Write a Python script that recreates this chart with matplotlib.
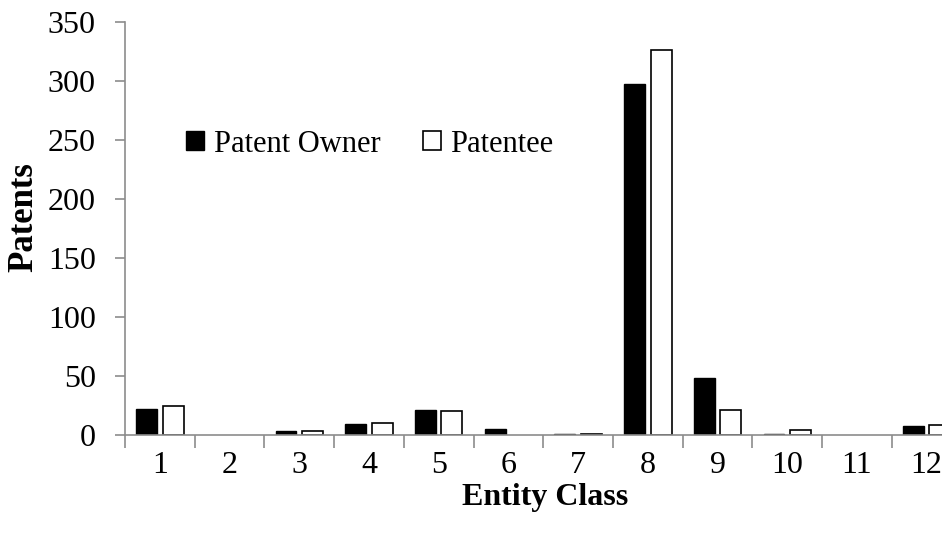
import matplotlib
matplotlib.use("Agg")
import matplotlib.pyplot as plt
import numpy as np

categories = ["1", "2", "3", "4", "5", "6", "7", "8", "9", "10", "11", "12"]
patent_owner = [22, 0, 3, 9, 21, 5, 1, 297, 48, 1, 0, 7]
patentee = [24, 0, 3, 10, 20, 0, 1, 326, 21, 4, 0, 8]
yticks = [0, 50, 100, 150, 200, 250, 300, 350]

plt.rcParams['font.family'] = ['Liberation Serif', 'DejaVu Serif']

fig = plt.figure(figsize=(9.42, 5.33), dpi=100)
ax = fig.add_axes([125/942, 1 - 434.7/533, (961.5 - 125)/942, (434.7 - 21.7)/533])

x = np.arange(1, len(categories) + 1)
w = 0.30
lw_o = [1.0 if v > 0 else 0 for v in patent_owner]
lw_p = [1.2 if v > 0 else 0 for v in patentee]
ax.bar(x - 0.19, patent_owner, width=w, color='black', edgecolor='black', linewidth=lw_o, label='Patent Owner')
ax.bar(x + 0.19, patentee, width=w, color='white', edgecolor='black', linewidth=lw_p, label='Patentee')

ax.set_xlim(0.5, 12.5)
ax.set_ylim(0, 350)
ax.set_yticks(yticks)
ax.set_xticks(x)
ax.set_xticklabels(categories)
ax.set_xticks(np.arange(0.5, 12.5, 1.0), minor=True)

gray = '#8c8c8c'
for s in ['top', 'right']:
    ax.spines[s].set_visible(False)
for s in ['left', 'bottom']:
    ax.spines[s].set_color(gray)
    ax.spines[s].set_linewidth(1.2)

ax.tick_params(axis='y', which='major', length=7, width=1.2, color=gray, labelsize=23, pad=14)
ax.tick_params(axis='x', which='major', length=0, labelsize=23, pad=12)
ax.tick_params(axis='x', which='minor', length=9, width=1.2, color=gray)

ax.set_ylabel('Patents', fontsize=25, fontweight='bold', va='center')
ax.yaxis.set_label_coords(24/942, 1 - 217.5/533, transform=fig.transFigure)
ax.set_xlabel('Entity Class', fontsize=23, fontweight='bold', va='center')
ax.xaxis.set_label_coords(545/942, 1 - 498/533, transform=fig.transFigure)

leg = fig.legend(loc='center left', bbox_to_anchor=(186/942, 1 - 144/533), ncol=2, frameon=False,
                 fontsize=22, handlelength=0.6, handleheight=0.6, handletextpad=0.3,
                 columnspacing=1.4, borderpad=0, borderaxespad=0)

fig.savefig('out.png', dpi=100)
